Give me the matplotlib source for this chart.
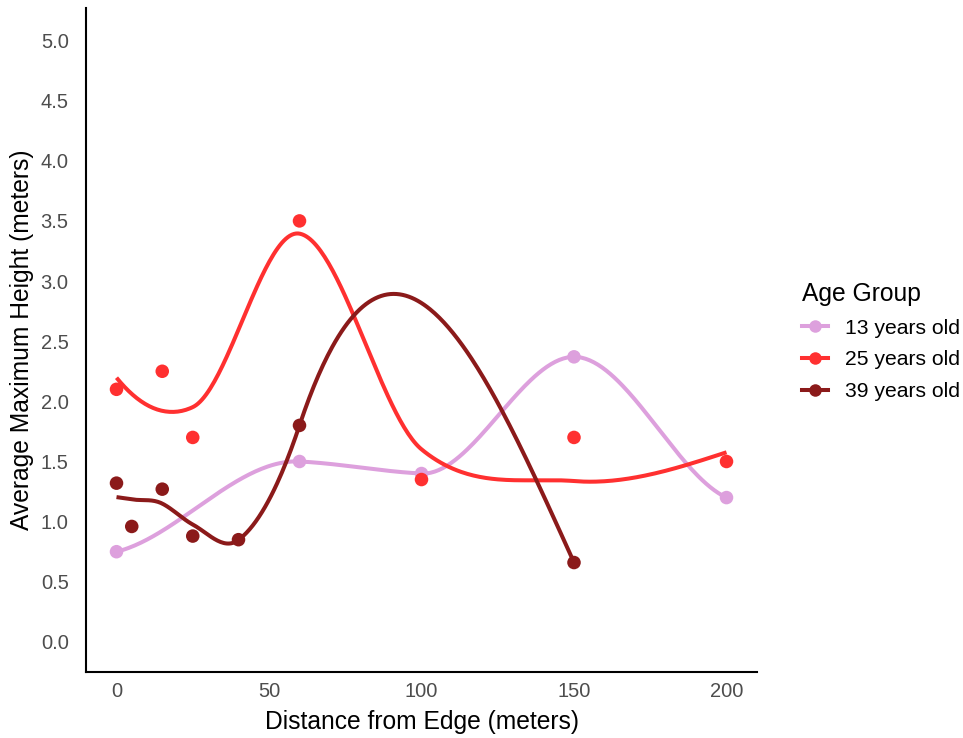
import numpy as np
import matplotlib
matplotlib.use("Agg")
import matplotlib.pyplot as plt
from matplotlib.lines import Line2D

plt.rcParams['font.family'] = ['Liberation Sans', 'DejaVu Sans']

# ---- data ----
groups = ["13 years old", "25 years old", "39 years old"]
colors = ["#DDA0DD", "#FF3030", "#8B1A1A"]

x13 = [0, 60, 100, 150, 200]
y13 = [0.75, 1.50, 1.40, 2.37, 1.20]

x25 = [0, 15, 25, 60, 100, 150, 200]
y25 = [2.10, 2.25, 1.70, 3.50, 1.35, 1.70, 1.50]

x39 = [0, 5, 15, 25, 40, 60, 150]
y39 = [1.32, 0.96, 1.27, 0.88, 0.85, 1.80, 0.66]

xticks = [0, 50, 100, 150, 200]
yticks = [0.0, 0.5, 1.0, 1.5, 2.0, 2.5, 3.0, 3.5, 4.0, 4.5, 5.0]


def local_fit(x, y, g, q):
    """local quadratic, tricube weights, column-equilibrated min-norm solve"""
    d = np.abs(x - g)
    rho = np.sort(d)[q - 1]
    w = np.clip(1 - (d / rho) ** 3, 0, None) ** 3
    keep = w > 0
    sw = np.sqrt(w[keep])
    xc = x[keep] - g
    X = np.vstack([np.ones(keep.sum()), xc, xc ** 2]).T * sw[:, None]
    norms = np.sqrt((X ** 2).sum(axis=0))
    norms[norms == 0] = 1.0
    beta = np.linalg.lstsq(X / norms, y[keep] * sw, rcond=1e-10)[0] / norms
    return beta[0], beta[1]


def kd_vertices(xs, fc):
    lo_b = xs[0] - 0.005 * (xs[-1] - xs[0])
    hi_b = xs[-1] + 0.005 * (xs[-1] - xs[0])
    verts = {lo_b, hi_b}

    def split(l, u, a, b):
        if (u - l + 1) <= fc or u < l:
            return
        m = (l + u) // 2
        v = xs[m - 1]
        if v == a or v == b:
            return
        verts.add(v)
        split(l, m, a, v)
        split(m + 1, u, v, b)

    split(1, len(xs), lo_b, hi_b)
    return np.array(sorted(verts))


def loess(x, y, grid, span=0.75):
    x = np.asarray(x, float)
    y = np.asarray(y, float)
    n = len(x)
    q = int(np.floor(n * span))
    fc = int(np.floor(n * span * 0.2))
    verts = kd_vertices(np.sort(x), fc)
    vals = np.array([local_fit(x, y, v, q) for v in verts])
    out = np.empty(len(grid))
    for i, g in enumerate(grid):
        k = np.clip(np.searchsorted(verts, g, side='right') - 1, 0, len(verts) - 2)
        x0, x1 = verts[k], verts[k + 1]
        h = x1 - x0
        t = (g - x0) / h
        f0, d0 = vals[k]
        f1, d1 = vals[k + 1]
        out[i] = ((2 * t**3 - 3 * t**2 + 1) * f0 + (t**3 - 2 * t**2 + t) * h * d0
                  + (-2 * t**3 + 3 * t**2) * f1 + (t**3 - t**2) * h * d1)
    return out


fig = plt.figure(figsize=(9.63, 7.38), dpi=100)
ax = fig.add_axes([86 / 963, 1 - 672 / 738, (757 - 86) / 963, (672 - 8) / 738])

series = [(x13, y13), (x25, y25), (x39, y39)]
for (xs, ys), c, lab in zip(series, colors, groups):
    grid = np.linspace(min(xs), max(xs), 300)
    ax.plot(grid, loess(xs, ys, grid), color=c, lw=2.9, solid_capstyle='butt', zorder=2)
    ax.scatter(xs, ys, s=95, color=c, edgecolors='none', zorder=3)

ax.set_xlim(-10, 210)
ax.set_ylim(-0.25, 5.27)
ax.set_xticks(xticks)
ax.set_xticklabels([str(v) for v in xticks])
ax.set_yticks(yticks)
ax.set_yticklabels([f"{v:.1f}" for v in yticks])
ax.tick_params(length=0, labelsize=14.5, labelcolor="#4D4D4D")
ax.tick_params(axis='y', pad=12.5)
ax.tick_params(axis='x', pad=7.5)
for s in ["top", "right"]:
    ax.spines[s].set_visible(False)
for s in ["left", "bottom"]:
    ax.spines[s].set_linewidth(1.5)
    ax.spines[s].set_color("black")
ax.set_xlabel("Distance from Edge (meters)", fontsize=17.7, labelpad=6)
ax.set_ylabel("Average Maximum Height (meters)", fontsize=17.7, labelpad=4.5)

handles = [Line2D([0], [0], color=c, lw=2.9, marker='o', markersize=9, markeredgewidth=0)
           for c in colors]
leg = fig.legend(handles, groups, title="Age Group", loc="upper left",
                 bbox_to_anchor=(783 / 963, 1 - 263 / 738), frameon=False,
                 fontsize=15.2, title_fontsize=17.7, handlelength=1.25,
                 labelspacing=0.6, handletextpad=0.78)
leg._legend_box.align = "left"

fig.savefig("out.png", dpi=100)
